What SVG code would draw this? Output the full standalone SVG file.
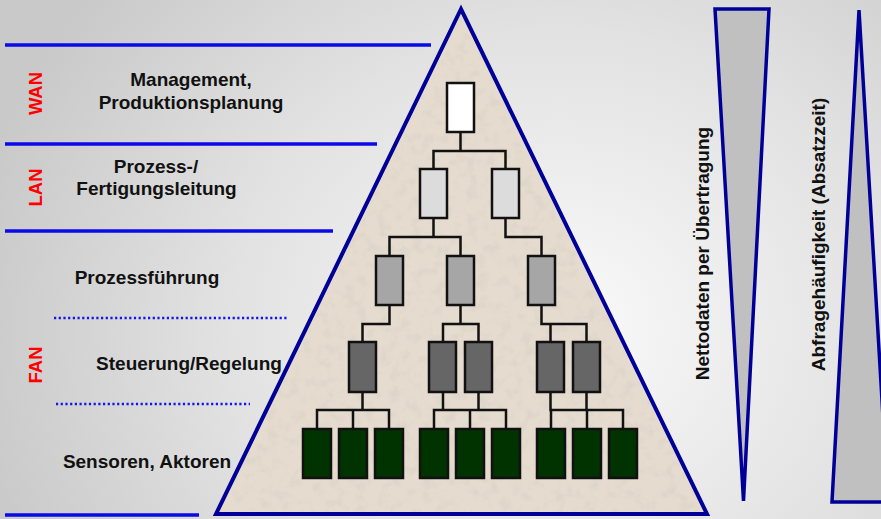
<svg xmlns="http://www.w3.org/2000/svg" width="881" height="519" viewBox="0 0 881 519">
  <defs>
    <radialGradient id="bg" gradientUnits="userSpaceOnUse" cx="560" cy="330" r="600" gradientTransform="translate(560 330) scale(1 0.9) translate(-560 -330)">
      <stop offset="0" stop-color="#fafafa"/>
      <stop offset="0.55" stop-color="#e2e2e2"/>
      <stop offset="1" stop-color="#c9c9c9"/>
    </radialGradient>
    <filter id="stone" x="0" y="0" width="100%" height="100%">
      <feTurbulence type="fractalNoise" baseFrequency="0.09" numOctaves="3" seed="7" result="n"/>
      <feColorMatrix in="n" type="matrix" values="0 0 0 0 0.62  0 0 0 0 0.58  0 0 0 0 0.53  0 0 0 0.9 -0.42" result="spots"/>
      <feComposite in="spots" in2="SourceGraphic" operator="in" result="clipped"/>
      <feMerge>
        <feMergeNode in="SourceGraphic"/>
        <feMergeNode in="clipped"/>
      </feMerge>
    </filter>
    <style>
      .band { stroke: #0a0ae8; stroke-width: 3.5; fill: none; }
      .dots { stroke: #1414f0; stroke-width: 2.5; stroke-dasharray: 2.2 2.5; fill: none; }
      .lbl { font-family: "Liberation Sans", Arial, sans-serif; font-weight: bold; font-size: 19px; fill: #111; text-anchor: middle; }
      .net { font-family: "Liberation Sans", Arial, sans-serif; font-weight: bold; font-size: 18.5px; fill: #ff0000; text-anchor: middle; }
      .box { stroke: #111; stroke-width: 2.5; }
      .l1 { fill: #ffffff; }
      .l2 { fill: #dcdcdc; }
      .l3 { fill: #a6a6a6; }
      .l4 { fill: #666666; }
      .l5 { fill: #003300; }
      .wire { stroke: #111; stroke-width: 2.5; fill: none; stroke-linecap: square; }
      .wedge { fill: #c0c0c0; stroke: #000099; stroke-width: 3.5; stroke-linejoin: miter; }
    </style>
  </defs>

  <!-- backdrop -->
  <rect x="0" y="0" width="881" height="519" fill="url(#bg)"/>

  <!-- network band separators -->
  <g id="bands">
    <line class="band" x1="5" y1="45" x2="431" y2="45"/>
    <line class="band" x1="5" y1="144" x2="377" y2="144"/>
    <line class="band" x1="5" y1="231" x2="333" y2="231"/>
    <line class="band" x1="5" y1="515" x2="199" y2="515"/>
    <line class="dots" x1="54" y1="318" x2="287" y2="318"/>
    <line class="dots" x1="56" y1="404" x2="250" y2="404"/>
  </g>

  <!-- pyramid -->
  <g id="pyramid">
    <polygon points="461,9 216,514 707,514" fill="#e5dccf" filter="url(#stone)"/>
    <polygon points="461,9 216,514 707,514" fill="none" stroke="#000099" stroke-width="4" stroke-linejoin="miter"/>
  </g>

  <!-- level labels -->
  <g id="labels">
    <text class="net" transform="translate(42 93.5) rotate(-90)">WAN</text>
    <text class="net" transform="translate(42 187.5) rotate(-90)">LAN</text>
    <text class="net" transform="translate(42 365) rotate(-90)">FAN</text>
    <text class="lbl" x="191" y="86">Management,</text>
    <text class="lbl" x="191" y="109">Produktionsplanung</text>
    <text class="lbl" x="156" y="173">Prozess-/</text>
    <text class="lbl" x="156.5" y="195">Fertigungsleitung</text>
    <text class="lbl" x="147" y="283.5">Prozessführung</text>
    <text class="lbl" x="189" y="369.5">Steuerung/Regelung</text>
    <text class="lbl" x="147" y="468">Sensoren, Aktoren</text>
  </g>

  <!-- hierarchy connectors -->
  <g id="connectors">
    <path class="wire" d="M460.5 132V151M433.5 169V151H505.5V169"/>
    <path class="wire" d="M433.5 218V237M389.5 256V237H460.5V256"/>
    <path class="wire" d="M505.5 218V237H541.5V256"/>
    <path class="wire" d="M389.5 305V324H362.5V342"/>
    <path class="wire" d="M460.5 305V324M443 342V324H478.5V342"/>
    <path class="wire" d="M541.5 305V324H586.5V342M550.5 324V342"/>
    <path class="wire" d="M362.5 392V410M317 429V410H389V429M353 410V429"/>
    <path class="wire" d="M443 392V410M478.5 392V410M434 429V410H506V429M470 410V429"/>
    <path class="wire" d="M550.5 392V410M586.5 392V410M551 429V410H623V429M587 410V429"/>
  </g>

  <!-- hierarchy nodes -->
  <g id="n-mgmt"><rect class="box l1" x="447" y="83" width="27" height="49"/></g>
  <g id="n-lead-1"><rect class="box l2" x="420" y="169" width="27" height="49"/></g>
  <g id="n-lead-2"><rect class="box l2" x="492" y="169" width="27" height="49"/></g>
  <g id="n-proc-1"><rect class="box l3" x="376" y="256" width="27" height="49"/></g>
  <g id="n-proc-2"><rect class="box l3" x="447" y="256" width="27" height="49"/></g>
  <g id="n-proc-3"><rect class="box l3" x="528" y="256" width="27" height="49"/></g>
  <g id="n-ctrl-1"><rect class="box l4" x="349" y="342" width="27" height="50"/></g>
  <g id="n-ctrl-2"><rect class="box l4" x="429" y="342" width="27" height="50"/></g>
  <g id="n-ctrl-3"><rect class="box l4" x="465" y="342" width="27" height="50"/></g>
  <g id="n-ctrl-4"><rect class="box l4" x="537" y="342" width="27" height="50"/></g>
  <g id="n-ctrl-5"><rect class="box l4" x="573" y="342" width="27" height="50"/></g>
  <g id="n-dev-1"><rect class="box l5" x="303" y="429" width="28" height="49"/></g>
  <g id="n-dev-2"><rect class="box l5" x="339" y="429" width="28" height="49"/></g>
  <g id="n-dev-3"><rect class="box l5" x="375" y="429" width="28" height="49"/></g>
  <g id="n-dev-4"><rect class="box l5" x="420" y="429" width="28" height="49"/></g>
  <g id="n-dev-5"><rect class="box l5" x="456" y="429" width="28" height="49"/></g>
  <g id="n-dev-6"><rect class="box l5" x="492" y="429" width="28" height="49"/></g>
  <g id="n-dev-7"><rect class="box l5" x="537" y="429" width="28" height="49"/></g>
  <g id="n-dev-8"><rect class="box l5" x="573" y="429" width="28" height="49"/></g>
  <g id="n-dev-9"><rect class="box l5" x="609" y="429" width="28" height="49"/></g>

  <!-- trend wedges -->
  <g id="wedge-payload">
    <polygon class="wedge" points="715,9 769,9 743.5,501"/>
    <text class="lbl" transform="translate(709 253.5) rotate(-90)">Nettodaten per Übertragung</text>
  </g>
  <g id="wedge-polling">
    <polygon class="wedge" points="859,10 832,502 888,502"/>
    <text class="lbl" transform="translate(825 234.5) rotate(-90)">Abfragehäufigkeit (Absatzzeit)</text>
  </g>
</svg>
